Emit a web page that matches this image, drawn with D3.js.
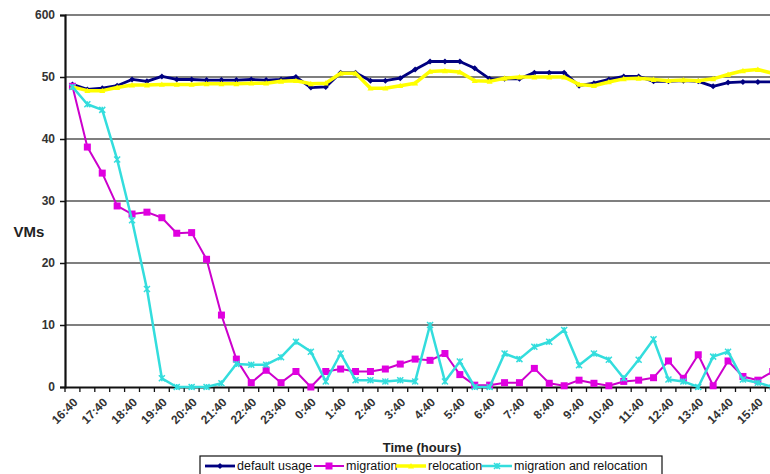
<!DOCTYPE html>
<html><head><meta charset="utf-8">
<script src="https://cdn.jsdelivr.net/npm/d3@7/dist/d3.min.js"></script>
<style>body{margin:0;background:#fff;overflow:hidden}svg{display:block}</style>
</head><body>
<script>
const categories = ["16:40","17:10","17:40","18:10","18:40","19:10","19:40","20:10","20:40","21:10","21:40","22:10",
 "22:40","23:10","23:40","0:10","0:40","1:10","1:40","2:10","2:40","3:10","3:40","4:10",
 "4:40","5:10","5:40","6:10","6:40","7:10","7:40","8:10","8:40","9:10","9:40","10:10",
 "10:40","11:10","11:40","12:10","12:40","13:10","13:40","14:10","14:40","15:10","15:40","16:10"];
const tickLabelsX = ["16:40","17:40","18:40","19:40","20:40","21:40","22:40","23:40","0:40","1:40","2:40","3:40",
 "4:40","5:40","6:40","7:40","8:40","9:40","10:40","11:40","12:40","13:40","14:40","15:40"];
const yTicks = [0,10,20,30,40,50,60];
const yTickLabels = ["0","10","20","30","40","50","600"];

const defaultUsage = [48.8,48.0,48.2,48.6,49.6,49.3,50.1,49.6,49.6,49.5,49.5,49.5,49.6,49.5,49.6,50.0,48.3,48.4,50.7,50.7,
 49.4,49.4,49.8,51.2,52.5,52.5,52.5,51.4,49.7,49.7,49.7,50.7,50.7,50.7,48.6,49.0,49.6,50.1,50.1,49.3,
 49.3,49.4,49.3,48.5,49.1,49.2,49.2,49.2];
const migration = [48.5,38.7,34.5,29.2,27.9,28.2,27.3,24.8,24.9,20.6,11.6,4.5,0.7,2.7,0.7,2.5,0,2.5,2.9,2.5,
 2.5,2.9,3.7,4.5,4.3,5.4,2.0,0.3,0.3,0.7,0.7,3.0,0.6,0.2,1.1,0.6,0.2,0.9,1.1,1.5,
 4.2,1.4,5.2,0.2,4.2,1.7,1.1,2.5];
const relocation = [48.4,47.8,47.8,48.3,48.7,48.7,48.8,48.8,48.8,48.9,48.9,48.9,49.0,49.0,49.3,49.4,48.9,49.0,50.6,50.6,
 48.2,48.2,48.6,49.0,50.9,51.0,50.8,49.4,49.3,49.8,50.0,50.0,50.0,50.0,48.8,48.6,49.2,49.7,49.8,49.6,
 49.4,49.5,49.4,49.7,50.4,51.0,51.2,50.6];
const migrationRelocation = [48.4,45.6,44.7,36.7,26.9,15.8,1.4,0,0,0,0.6,3.7,3.6,3.6,4.8,7.3,5.7,0.9,5.4,1.1,
 1.1,0.9,1.1,0.9,10.0,0.9,4.1,0,0,5.4,4.5,6.5,7.3,9.2,3.5,5.4,4.4,1.4,4.4,7.7,
 1.2,0.9,0,4.9,5.7,1.2,0.7,0];

const seriesNames = ["default usage","migration","relocation","migration and relocation"];
const seriesData = [defaultUsage, migration, relocation, migrationRelocation];
const seriesColors = ["#000080","#CC00CC","#FFFF00","#33DDDD"];
const markerColors = ["#000080","#E000E0","#FFFF00","#33DDDD"];
const lineWidths = [2.8,2,3.5,2.5];
const markerTypes = ["diamond","square","triangle","asterisk"];

const W = 770, H = 474;
const svg = d3.select("body").append("svg").attr("width", W).attr("height", H);
const font = "Liberation Sans, Arial, sans-serif";

const x = d3.scaleBand().domain(categories).range([65, 65 + categories.length * 14.9]).padding(0);
const y = d3.scaleLinear().domain([0, 60]).range([387, 15]);
const cx = c => x(c) + x.bandwidth() / 2;

// gridlines
svg.append("g").selectAll("line").data(yTicks.filter(d => d > 0)).join("line")
  .attr("x1", 65).attr("x2", W).attr("y1", d => y(d)).attr("y2", d => y(d))
  .attr("stroke", "#555").attr("stroke-width", 1.3);

// y axis
const yAxis = svg.append("g").attr("transform", "translate(65,0)")
  .call(d3.axisLeft(y).tickValues(yTicks).tickFormat((d, i) => yTickLabels[i]).tickSize(5).tickPadding(5));
yAxis.select(".domain").attr("stroke", "#111").attr("stroke-width", 2.2);
yAxis.selectAll(".tick line").attr("stroke", "#111").attr("stroke-width", 1.5);
yAxis.selectAll("text").attr("font-family", font).attr("font-size", 12).attr("font-weight", "bold").attr("fill", "#333");

// x axis
const xAxis = svg.append("g").attr("transform", "translate(0,387)")
  .call(d3.axisBottom(x).tickValues([]).tickSize(0));
xAxis.select(".domain").attr("stroke", "#111").attr("stroke-width", 2.2);
svg.append("g").selectAll("line").data(categories.concat(["_end"])).join("line")
  .attr("x1", (d, i) => x.range()[0] + i * x.step()).attr("x2", (d, i) => x.range()[0] + i * x.step())
  .attr("y1", 387).attr("y2", 392).attr("stroke", "#111").attr("stroke-width", 1.3);
svg.append("g").selectAll("text").data(tickLabelsX).join("text")
  .attr("transform", d => `translate(${cx(d) + 3},${400}) rotate(-45)`)
  .attr("text-anchor", "end").attr("dy", "0.35em")
  .attr("font-family", font).attr("font-size", 12).attr("font-weight", "bold").attr("fill", "#333")
  .text(d => d);

// titles
svg.append("text").attr("x", 29).attr("y", 232).attr("dy", "0.35em").attr("text-anchor", "middle")
  .attr("font-family", font).attr("font-size", 15).attr("font-weight", "bold").attr("fill", "#222").text("VMs");
svg.append("text").attr("x", 422).attr("y", 447).attr("dy", "0.35em").attr("text-anchor", "middle")
  .attr("font-family", font).attr("font-size", 13).attr("font-weight", "bold").attr("fill", "#222").text("Time (hours)");

function marker(g, type, color, px, py, s) {
  if (type === "diamond") {
    g.append("path").attr("d", `M${px},${py - s}L${px + s},${py}L${px},${py + s}L${px - s},${py}Z`).attr("fill", color);
  } else if (type === "square") {
    g.append("rect").attr("x", px - s).attr("y", py - s).attr("width", 2 * s).attr("height", 2 * s).attr("fill", color);
  } else if (type === "triangle") {
    g.append("path").attr("d", `M${px},${py - s}L${px + s},${py + s * 0.8}L${px - s},${py + s * 0.8}Z`).attr("fill", color);
  } else {
    g.append("path").attr("d", `M${px - s},${py - s}L${px + s},${py + s}M${px - s},${py + s}L${px + s},${py - s}M${px},${py - s}L${px},${py + s}`)
      .attr("stroke", color).attr("stroke-width", 1.5);
  }
}

// series
const line = d3.line().x((d, i) => cx(categories[i])).y(d => y(d));
seriesData.forEach((data, k) => {
  const g = svg.append("g");
  g.append("path").datum(data).attr("d", line).attr("fill", "none")
    .attr("stroke", seriesColors[k]).attr("stroke-width", lineWidths[k]).attr("stroke-linejoin", "round");
  data.forEach((v, i) => marker(g, markerTypes[k], markerColors[k], cx(categories[i]), y(v), k === 1 ? 3.5 : 3));
});

// legend
const lg = svg.append("g");
lg.append("rect").attr("x", 200).attr("y", 456).attr("width", 462).attr("height", 22)
  .attr("fill", "#fff").attr("stroke", "#111").attr("stroke-width", 1.2);
const legendX = [205, 314, 396, 482];
seriesNames.forEach((n, k) => {
  const gx = legendX[k], gy = 466;
  lg.append("line").attr("x1", gx).attr("x2", gx + 30).attr("y1", gy).attr("y2", gy)
    .attr("stroke", seriesColors[k]).attr("stroke-width", lineWidths[k]);
  marker(lg, markerTypes[k], markerColors[k], gx + 15, gy, k === 1 ? 3.5 : 3);
  lg.append("text").attr("x", gx + 32).attr("y", gy).attr("dy", "0.35em")
    .attr("font-family", font).attr("font-size", 12.5).attr("fill", "#111").text(n);
});
</script>
</body></html>
